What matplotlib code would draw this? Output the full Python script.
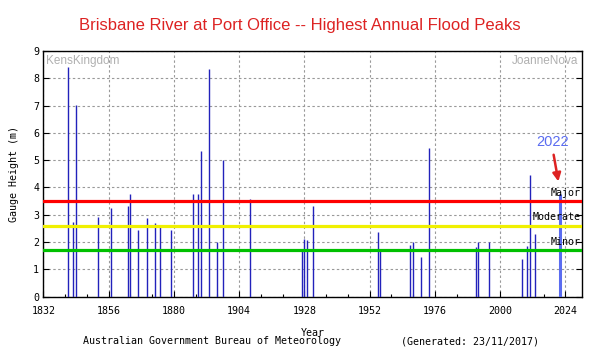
import matplotlib
matplotlib.use("Agg")
import matplotlib.pyplot as plt
from matplotlib.ticker import MultipleLocator

years = [1841, 1843, 1844, 1852, 1857, 1863, 1864, 1867, 1870, 1873, 1875, 1879,
         1887, 1889, 1890, 1893, 1896, 1898, 1908, 1927, 1928, 1929, 1931,
         1955, 1956, 1967, 1968, 1971, 1974, 1991, 1992, 1996, 2008, 2010, 2011, 2013]
peaks = [8.43, 2.72, 7.02, 2.91, 3.25, 3.33, 3.76, 2.44, 2.88, 2.70, 2.59, 2.44,
         3.76, 3.76, 5.34, 8.35, 2.00, 5.01, 3.58, 1.69, 2.10, 2.08, 3.33,
         2.38, 1.75, 1.91, 2.00, 1.47, 5.45, 1.82, 2.02, 2.02, 1.39, 1.86, 4.46, 2.31]
year_2022 = [2022]
peak_2022 = [3.78]

levels = [3.5, 2.6, 1.7]
level_names = ["Major", "Moderate", "Minor"]
level_colors = ["#ff0000", "#f0f000", "#00c000"]

xticks = [1832, 1856, 1880, 1904, 1928, 1952, 1976, 2000, 2024]
yticks = list(range(0, 10))

mono = "DejaVu Sans Mono"
fs = 7.2

fig = plt.figure(figsize=(6, 3.5), dpi=100)
ax = fig.add_axes([0.0722, 0.1523, 0.8973, 0.702])
ax.set_xlim(1832, 2030)
ax.set_ylim(0, 9)

ax.set_xticks(xticks)
ax.set_yticks(yticks)
ax.xaxis.set_minor_locator(MultipleLocator(8))
ax.grid(True, which="major", color="#999999", linestyle=(0, (2.2, 2.2)), linewidth=0.8)
ax.set_axisbelow(True)

ax.vlines(years, 0, peaks, colors="#2222bb", linewidth=1.0, zorder=3)
ax.vlines(year_2022, 0, peak_2022, colors="#5a6cf0", linewidth=2.2, zorder=3)

for lv, nm, c in zip(levels, level_names, level_colors):
    ax.axhline(lv, color=c, linewidth=2.3, zorder=4)
    ax.text(2029.7, lv + 0.12, nm, ha="right", va="bottom", fontsize=fs,
            family=mono, color="black", zorder=5)

ax.tick_params(axis="both", which="both", direction="in", labelsize=fs,
               right=True, top=False, length=4, width=0.8, pad=3)
ax.tick_params(axis="x", which="both", pad=7)
ax.tick_params(axis="x", which="minor", length=2.5)
for lab in ax.get_xticklabels() + ax.get_yticklabels():
    lab.set_family(mono)
for sp in ax.spines.values():
    sp.set_linewidth(1.0)

ax.set_xlabel("Year", fontsize=fs, family=mono, labelpad=8)
ax.set_ylabel("Gauge Height (m)", fontsize=fs, family=mono, labelpad=10)

ax.text(0.005, 0.985, "KensKingdom", transform=ax.transAxes, ha="left", va="top",
        fontsize=8.5, color="#b0b0b0", family="Liberation Sans")
ax.text(0.993, 0.985, "JoanneNova", transform=ax.transAxes, ha="right", va="top",
        fontsize=8.5, color="#b0b0b0", family="Liberation Sans")

ax.text(2019.3, 5.67, "2022", ha="center", va="center", fontsize=10.5,
        color="#5a6cf0", family="Liberation Sans", zorder=6)
ax.annotate("", xy=(2021.6, 4.12), xytext=(2019.5, 5.3),
            arrowprops=dict(arrowstyle="-|>", color="#dd2222", lw=1.8,
                            mutation_scale=12), zorder=6)

fig.text(0.5, 0.928, "Brisbane River at Port Office -- Highest Annual Flood Peaks",
         ha="center", va="center", fontsize=12, color="#dd2222", family="Liberation Sans")
fig.text(0.138, 0.01, "Australian Government Bureau of Meteorology", ha="left",
         va="bottom", fontsize=fs, family=mono)
fig.text(0.668, 0.01, "(Generated: 23/11/2017)", ha="left", va="bottom",
         fontsize=fs, family=mono)

fig.savefig("out.png", dpi=100, facecolor="white")
